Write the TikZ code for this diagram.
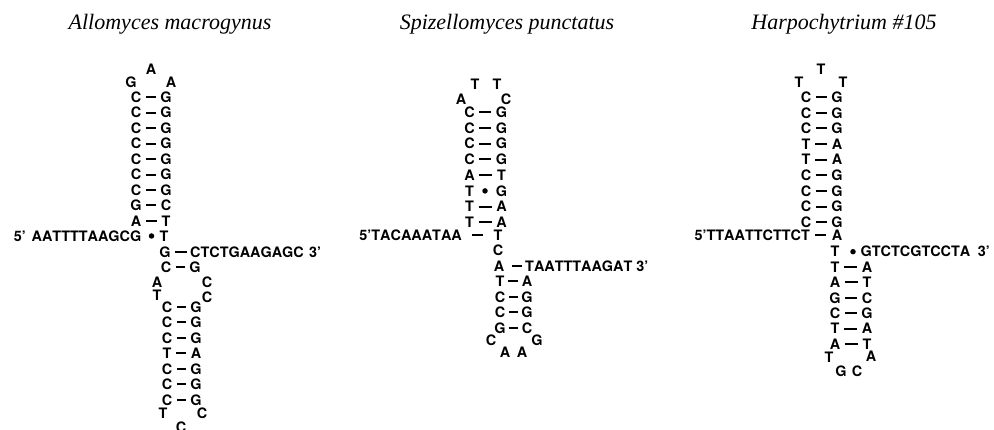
\documentclass[tikz,border=0pt]{standalone}
\usepackage{fontspec}
\setmainfont{TeX Gyre Heros}
\newfontfamily\titlefont{Liberation Serif}
\begin{document}
\begin{tikzpicture}[x=1pt,y=-1pt,
  nt/.style={inner sep=0pt, text height=10.3pt, text depth=0pt, font=\fontsize{14.4}{15}\selectfont\bfseries\addfontfeatures{Kerning=Off}},
  bond/.style={line width=2pt, shorten <=4.5pt, shorten >=4.5pt},
  wob/.style={circle, fill, inner sep=0pt, minimum size=5.5pt},
  ttl/.style={inner sep=0pt, anchor=base, font=\titlefont\itshape\fontsize{22}{24}\selectfont}]
\useasboundingbox (0,0) rectangle (994,430);
% titles
\node[ttl] (t1) at (170,29.5) {Allomyces macrogynus};
\node[ttl] (t2) at (507,29.5) {Spizellomyces punctatus};
\node[ttl] (t3) at (844,29.5) {Harpochytrium \#105};
% ---------- structure 1 ----------
\node[nt] (aG) at (131,82) {G};
\node[nt] (aA1) at (151,69) {A};
\node[nt] (aA2) at (171,82) {A};
\foreach \y/\l/\r [count=\i] in {97.3/C/G,112.8/C/G,128.2/C/G,143.7/C/G,159.1/C/G,174.6/C/G,190.1/C/G,205.5/G/C,221/A/T}{
  \node[nt] (aL\i) at (136,\y) {\l};
  \node[nt] (aR\i) at (166,\y) {\r};
  \draw[bond] (aL\i.east) -- (aR\i.west);
}
\node[nt,anchor=east] (a5p) at (141.5,236) {5'\hspace{0.4em}AATTTTAAGCG};
\node[nt] (aT) at (164,236) {T};
\node[wob] (aW) at (151.5,236) {};
\node[nt] (bL1) at (165,252) {G};
\node[nt,anchor=west] (a3p) at (190,252) {CTCTGAAGAGC\hspace{0.1em} 3'};
\draw[bond, shorten >=3.5pt] (bL1.east) -- (a3p.west);
\node[nt] (bL2) at (166,267) {C};
\node[nt] (bR2) at (195,267) {G};
\draw[bond] (bL2.east) -- (bR2.west);
\node[nt] (aiA) at (157,282) {A};
\node[nt] (aiT) at (157,295) {T};
\node[nt] (aiC1) at (207,282) {C};
\node[nt] (aiC2) at (207,297) {C};
\foreach \y/\l/\r [count=\i] in {307/C/G,322.5/C/G,338/C/G,353.5/T/A,369/C/G,384.5/C/G,400/C/G}{
  \node[nt] (cL\i) at (167,\y) {\l};
  \node[nt] (cR\i) at (196,\y) {\r};
  \draw[bond] (cL\i.east) -- (cR\i.west);
}
\node[nt] (abT) at (163,413) {T};
\node[nt] (abC1) at (202,413) {C};
\node[nt] (abC2) at (181,427) {C};
% ---------- structure 2 ----------
\node[nt] (sT1) at (475,84) {T};
\node[nt] (sT2) at (497,84) {T};
\node[nt] (sA) at (461,99.3) {A};
\node[nt] (sC) at (506,99.3) {C};
\foreach \y/\l/\r [count=\i] in {112.3/C/G,128/C/G,143.7/C/G,159.4/C/G,175.1/A/T,190.9/T/G,206.6/T/A,222.3/T/A}{
  \node[nt] (sL\i) at (469.5,\y) {\l};
  \node[nt] (sR\i) at (501.5,\y) {\r};
}
\foreach \i in {1,2,3,4,5,7,8}{\draw[bond] (sL\i.east) -- (sR\i.west);}
\node[wob] (sW) at (485,190.9) {};
\node[nt,anchor=east] (s5p) at (462,235) {5'TACAAATAA};
\node[nt] (sT) at (498,235) {T};
\draw[bond, shorten <=9.5pt, shorten >=10pt] (s5p.east) -- (sT.west);
\node[nt] (sCm) at (498,250) {C};
\node[nt] (sAm) at (499,266) {A};
\node[nt,anchor=west] (s3p) at (525,266) {TAATTTAAGAT 3'};
\draw[bond, shorten <=8pt, shorten >=3pt] (sAm.east) -- (s3p.west);
\foreach \y/\l/\r [count=\i] in {281.5/T/A,297/C/G,312.5/C/G,328/G/C}{
  \node[nt] (uL\i) at (500,\y) {\l};
  \node[nt] (uR\i) at (527,\y) {\r};
  \draw[bond, shorten <=3.5pt, shorten >=3.5pt] (uL\i.east) -- (uR\i.west);
}
\node[nt] (sbC) at (491,340) {C};
\node[nt] (sbG) at (537,340) {G};
\node[nt] (sbA1) at (505,352) {A};
\node[nt] (sbA2) at (522,352) {A};
% ---------- structure 3 ----------
\node[nt] (hT1) at (821,69) {T};
\node[nt] (hT2) at (799,82) {T};
\node[nt] (hT3) at (843,82) {T};
\foreach \y/\l/\r [count=\i] in {97.3/C/G,112.9/C/G,128.5/C/G,144.1/T/A,159.8/T/A,175.4/C/G,191/C/G,206.6/C/G,222.3/C/G}{
  \node[nt] (hL\i) at (806,\y) {\l};
  \node[nt] (hR\i) at (837,\y) {\r};
  \draw[bond] (hL\i.east) -- (hR\i.west);
}
\node[nt,anchor=east] (h5p) at (810,235) {5'TTAATTCTTCT};
\node[nt] (hA) at (837,235) {A};
\draw[bond, shorten <=5pt, shorten >=6pt] (h5p.east) -- (hA.west);
\node[nt] (hT) at (835,251.7) {T};
\node[wob] (hW) at (853,251.7) {};
\node[nt,anchor=west] (h3p) at (860.5,251.7) {GTCTCGTCCTA\hspace{0.25em} 3'};
\foreach \y/\l/\r [count=\i] in {267.1/T/A,282.5/A/T,297.9/G/C,313.2/C/G,328.6/T/A,344/A/T}{
  \node[nt] (kL\i) at (835,\y) {\l};
  \node[nt] (kR\i) at (867,\y) {\r};
  \draw[bond] (kL\i.east) -- (kR\i.west);
}
\node[nt] (hbT) at (829,357.5) {T};
\node[nt] (hbA) at (871,356.5) {A};
\node[nt] (hbG) at (841,371.7) {G};
\node[nt] (hbC) at (857,371.7) {C};
\end{tikzpicture}
\end{document}
